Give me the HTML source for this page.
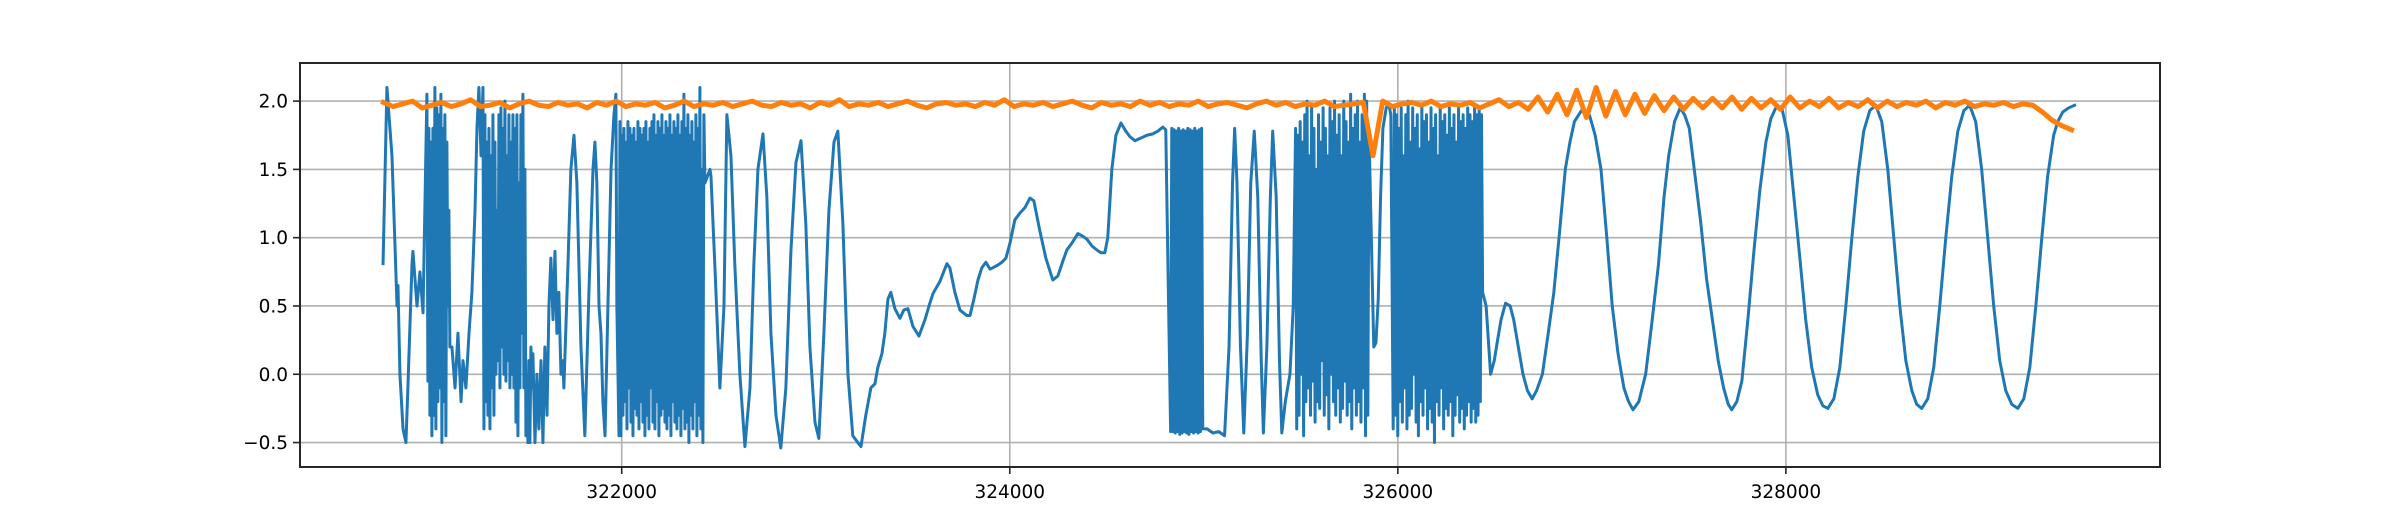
<!DOCTYPE html>
<html><head><meta charset="utf-8"><style>
html,body{margin:0;padding:0;background:#fff;}
svg{display:block;}
text{font-family:"DejaVu Sans","Liberation Sans",sans-serif;font-size:18.5px;fill:#000;}
</style></head>
<body>
<svg id="chart" width="2400" height="525" viewBox="0 0 2400 525" xmlns="http://www.w3.org/2000/svg">
<rect x="0" y="0" width="2400" height="525" fill="#fff"/>
<g id="grid"></g>
<g id="plot"></g>
<rect x="300" y="63" width="1860" height="404" fill="none" stroke="#262626" stroke-width="2"/>
<g id="ticks"></g>
</svg>
<script>
const xTicks = [322000, 324000, 326000, 328000];
const yTicks = [-0.5, 0.0, 0.5, 1.0, 1.5, 2.0];
const yTickLabels = ["\u22120.5", "0.0", "0.5", "1.0", "1.5", "2.0"];

const blueX = [320770,320790,320816,320842,320847,320857,320873,320888,320898,320919,320924,320945,320960,320976,
321125,321141,321156,321172,321182,321197,321213,321228,321244,321254,321264,321275,321285,
321553,321563,321573,321584,321594,321604,321615,321625,321635,321646,321656,321666,321676,321687,321697,321702,321723,321738,321754,321769,321790,321810,321831,321852,321862,321872,321883,321893,321903,321914,321929,321945,321960,321970,321975,321986,
322455,322460,322480,322506,322527,322542,322563,322583,322609,322635,322661,322681,322702,322728,322748,322769,322795,322820,322846,322872,322898,322924,322949,322970,322996,323016,323042,323068,323094,323114,323140,323166,323191,323217,323233,323258,323284,323305,323320,323341,323356,323372,323387,323408,323434,323454,323475,323501,323532,323563,323588,323604,323640,323676,323691,323717,323743,323779,323795,323815,323836,323856,323877,323898,323913,323939,323959,323980,324001,324026,324052,324078,324104,324124,324155,324186,324222,324248,324274,324294,324320,324351,324377,324397,324423,324449,324470,324490,324505,324526,324547,324573,324598,324619,324645,324676,324707,324737,324763,324789,324804,
325017,325047,325077,325107,325130,325148,325159,325171,325189,325206,325225,325242,325260,325278,325296,325307,325325,325343,325355,325373,325390,325402,325420,325444,325461,
325876,325887,325899,325911,325923,325940,325953,325964,
326455,326478,326497,326514,326532,326555,326579,326597,326621,326645,326668,326692,326715,326745,326775,326804,326834,326863,326887,326910,326946,326987,327017,327047,327077,327105,327135,327165,327189,327212,327242,327277,327307,327343,327372,327396,327426,327455,327478,327502,327532,327562,327591,327621,327651,327679,327703,
327721,327747,327773,327804,327835,327866,327897,327922,327948,327979,328010,328041,328072,328102,328133,328164,328190,328216,328247,328278,328309,328340,328371,328401,328432,328463,328494,328525,328556,328587,328618,328649,328674,328700,328731,328762,328793,328824,328855,328886,328917,328947,328978,329009,329040,329071,329102,329133,329164,329195,329226,329257,329288,329319,329349,329380,329401,329427,329457,329488];
const blueY = [0.81,2.1,1.6,0.5,0.65,0.0,-0.4,-0.5,-0.1,0.8,0.9,0.5,0.75,0.45,
0.2,-0.1,0.3,-0.2,0.1,-0.1,0.3,0.6,1.2,1.8,2.1,1.6,2.1,
-0.5,0.0,-0.4,0.1,-0.5,0.2,-0.3,0.5,0.85,0.4,0.9,0.3,0.6,0.0,0.1,-0.1,0.8,1.5,1.75,1.4,0.2,-0.45,0.6,1.5,1.7,1.4,0.5,0.3,-0.2,-0.45,0.5,1.5,1.9,2.05,0.5,-0.45,
1.5,1.45,0.8,-0.1,0.5,1.9,1.6,0.8,0.0,-0.53,-0.1,0.8,1.5,1.76,1.3,0.3,-0.3,-0.54,-0.1,0.9,1.55,1.71,1.1,0.2,-0.35,-0.47,0.3,1.2,1.7,1.78,1.1,0.0,-0.45,-0.5,-0.53,-0.3,-0.1,-0.07,0.05,0.15,0.3,0.55,0.6,0.48,0.41,0.47,0.48,0.35,0.28,0.4,0.52,0.59,0.68,0.81,0.78,0.6,0.47,0.43,0.43,0.55,0.69,0.78,0.82,0.77,0.78,0.80,0.82,0.85,0.96,1.13,1.18,1.22,1.29,1.27,1.05,0.85,0.69,0.72,0.83,0.91,0.96,1.03,1.01,0.99,0.94,0.91,0.89,0.89,1.0,1.5,1.75,1.84,1.78,1.74,1.71,1.73,1.75,1.76,1.78,1.81,1.79,
-0.4,-0.43,-0.42,-0.45,0.2,1.4,1.8,1.4,0.2,-0.43,0.3,1.4,1.78,1.3,0.1,-0.43,0.2,1.3,1.78,1.3,0.1,-0.43,-0.2,0.0,0.5,
0.2,0.23,0.55,1.3,1.8,1.95,1.98,1.9,
0.5,0.0,0.1,0.25,0.4,0.52,0.5,0.4,0.2,0.0,-0.12,-0.18,-0.12,0.0,0.3,0.6,1.05,1.5,1.7,1.85,1.93,1.9,1.75,1.5,1.0,0.5,0.15,-0.1,-0.2,-0.26,-0.2,0.0,0.35,0.8,1.3,1.6,1.85,1.95,1.9,1.8,1.45,1.1,0.7,0.4,0.1,-0.1,-0.22,
-0.26,-0.2,-0.05,0.4,0.9,1.35,1.7,1.87,1.95,1.95,1.75,1.3,0.85,0.4,0.05,-0.15,-0.23,-0.25,-0.18,0.05,0.5,1.0,1.45,1.78,1.93,1.97,1.85,1.5,1.0,0.5,0.1,-0.12,-0.22,-0.25,-0.18,0.05,0.5,1.0,1.45,1.78,1.93,1.97,1.85,1.5,1.0,0.5,0.1,-0.12,-0.22,-0.25,-0.18,0.05,0.5,1.0,1.45,1.75,1.85,1.92,1.95,1.97];

const burstStart = [320996, 321290, 321991, 324829, 325473, 325976];
const burstStep = [5.15, 5.15, 5.15, 5.91, 5.91, 5.91];
const burstA = [2.05,-0.05,1.8,-0.3,1.7,-0.45,1.8,-0.3,2.1,-0.4,1.95,-0.2,1.9,-0.1,2.05,-0.5,1.8,-0.2,1.9,-0.45,1.7,0.5,1.2,0.2];
const burstB = [-0.4,1.9,-0.2,1.7,-0.3,1.8,-0.4,1.6,-0.1,1.9,-0.3,1.7,0.0,1.2,0.1,1.9,-0.1,1.95,0.2,1.8,0.0,2.0,-0.05,1.6,0.1,1.9,-0.1,1.7,0.0,1.9,-0.1,1.8,-0.35,1.9,-0.45,1.4,-0.1,1.9,0.3,2.05,-0.1,1.5,-0.45,0.0,-0.5,0.1,-0.5,0.2,-0.1,0.15];
const burstC = [1.85,-0.45,1.75,-0.3,1.8,-0.2,1.7,-0.4,1.85,-0.1,1.8,-0.35,1.75,-0.45,1.8,-0.25,1.7,-0.3,1.85,-0.4,1.8,-0.2,1.75,-0.35,1.8,-0.45,1.85,-0.3,1.7,-0.4,1.8,-0.1,1.85,-0.35,1.9,-0.4,1.75,-0.2,1.85,-0.45,1.8,-0.3,1.9,-0.25,1.75,-0.35,1.85,-0.4,1.8,-0.3,1.9,-0.45,1.75,-0.2,1.85,-0.35,1.8,-0.4,1.9,-0.3,1.75,-0.45,1.85,-0.25,2.05,-0.4,1.8,-0.35,1.9,-0.5,1.75,-0.3,1.85,-0.4,1.7,-0.2,1.9,-0.45,1.8,-0.3,2.1,-0.4,1.5,-0.5,1.9,1.4];
const burstD = [-0.42,1.8,-0.42,1.79,-0.43,1.78,-0.42,1.8,-0.44,1.78,-0.43,1.79,-0.42,1.78,-0.43,1.8,-0.44,1.79,-0.42,1.78,-0.43,1.8,-0.42,1.78,-0.43,1.79,-0.42,1.8,-0.4];
const burstE = [1.8,-0.4,1.75,-0.3,1.85,0.0,1.7,-0.45,1.9,-0.2,2.0,-0.1,1.6,-0.3,1.95,-0.05,1.8,-0.35,1.5,-0.2,1.9,-0.25,1.7,0.1,1.95,-0.3,1.8,-0.15,1.6,-0.4,1.95,0.0,1.85,-0.2,2.0,-0.3,1.75,-0.1,1.9,-0.35,1.6,-0.25,2.0,-0.05,1.85,-0.3,1.7,-0.2,2.05,-0.4,1.8,-0.1,1.9,-0.3,2.0,-0.2,1.7,-0.35,1.9,-0.1,2.05,-0.45,2.0,-0.3,1.8,1.4];
const burstF = [-0.4,1.95,-0.3,1.9,-0.45,1.8,-0.2,1.95,-0.35,1.6,-0.1,1.9,-0.4,2.0,-0.3,1.7,-0.25,1.95,0.0,1.8,-0.35,1.9,-0.45,1.65,-0.2,1.95,-0.3,1.85,-0.1,1.9,-0.4,1.7,-0.25,1.95,-0.35,1.8,-0.5,1.9,-0.2,1.6,-0.3,1.95,-0.1,1.85,-0.4,1.9,-0.25,1.75,-0.3,1.95,-0.2,1.8,-0.45,1.9,-0.3,1.7,-0.15,1.95,-0.35,1.85,-0.25,1.9,-0.4,1.8,-0.3,1.95,-0.2,1.9,-0.35,1.85,-0.25,1.95,-0.35,1.9,-0.3,1.95,-0.2,1.9,0.6];

const orangeStart = 320772;
const orangeStep = 50;
const orangeY = [1.99,1.96,1.98,2.00,1.95,1.97,1.99,1.96,1.98,2.01,1.96,1.97,1.99,1.95,1.98,2.00,1.97,1.96,1.99,1.97,
1.98,1.95,1.99,1.97,2.00,1.96,1.98,1.97,1.99,1.95,1.97,2.00,1.96,1.98,1.97,1.99,1.96,1.98,2.00,1.97,
1.96,1.99,1.97,1.98,1.95,1.99,1.97,2.01,1.96,1.98,1.97,1.99,1.96,1.98,2.00,1.97,1.95,1.98,1.99,1.97,
1.98,1.96,1.99,1.97,2.01,1.96,1.98,1.97,1.99,1.96,1.98,2.00,1.97,1.95,1.99,1.97,1.98,1.96,2.00,1.97,
1.99,1.96,1.98,1.97,2.00,1.96,1.98,1.99,1.97,1.95,1.98,2.00,1.97,1.99,1.96,1.98,1.97,2.00,1.96,1.97,
1.98,1.99,1.60,2.00,1.96,1.98,1.99,1.97,2.00,1.96,1.98,1.97,1.99,1.95,1.98,2.01,1.96,1.99,1.94,2.03,
1.92,2.05,1.90,2.08,1.88,2.10,1.89,2.07,1.90,2.05,1.91,2.04,1.93,2.03,1.94,2.02,1.95,2.02,1.95,2.03,
1.94,2.02,1.95,2.01,1.94,2.03,1.95,2.00,1.96,2.02,1.95,1.99,1.96,2.01,1.95,2.00,1.96,1.99,1.97,2.00,
1.95,1.99,1.97,2.00,1.96,1.98,1.97,1.99,1.96,1.98,1.97,1.92,1.86,1.82,1.79];

const xDomain = [320342, 329928];
const yDomain = [-0.679, 2.279];
const plotL = 300, plotR = 2160, plotT = 63, plotB = 467;
function sx(v){ return plotL + (v - xDomain[0]) / (xDomain[1] - xDomain[0]) * (plotR - plotL); }
function sy(v){ return plotB - (v - yDomain[0]) / (yDomain[1] - yDomain[0]) * (plotB - plotT); }

const NS = "http://www.w3.org/2000/svg";
const grid = document.getElementById('grid');
const ticks = document.getElementById('ticks');
const plot = document.getElementById('plot');

xTicks.forEach(function(t){
  const X = sx(t);
  const gl = document.createElementNS(NS, 'line');
  gl.setAttribute('x1', X); gl.setAttribute('x2', X); gl.setAttribute('y1', plotT); gl.setAttribute('y2', plotB);
  gl.setAttribute('stroke', '#b0b0b0'); gl.setAttribute('stroke-width', '1.6');
  
  
  grid.appendChild(gl);
  const tk = document.createElementNS(NS, 'line');
  tk.setAttribute('x1', X); tk.setAttribute('x2', X); tk.setAttribute('y1', plotB); tk.setAttribute('y2', plotB + 7);
  tk.setAttribute('stroke', '#262626'); tk.setAttribute('stroke-width', '1.6');
  
  
  ticks.appendChild(tk);
  const tx = document.createElementNS(NS, 'text');
  tx.setAttribute('x', X); tx.setAttribute('y', 498); tx.setAttribute('text-anchor', 'middle');
  tx.textContent = String(t);
  
  
  ticks.appendChild(tx);
});
yTicks.forEach(function(t, i){
  const Y = sy(t);
  const gl = document.createElementNS(NS, 'line');
  gl.setAttribute('x1', plotL); gl.setAttribute('x2', plotR); gl.setAttribute('y1', Y); gl.setAttribute('y2', Y);
  gl.setAttribute('stroke', '#b0b0b0'); gl.setAttribute('stroke-width', '1.6');
  
  
  grid.appendChild(gl);
  const tk = document.createElementNS(NS, 'line');
  tk.setAttribute('x1', plotL - 7); tk.setAttribute('x2', plotL); tk.setAttribute('y1', Y); tk.setAttribute('y2', Y);
  tk.setAttribute('stroke', '#262626'); tk.setAttribute('stroke-width', '1.6');
  
  
  ticks.appendChild(tk);
  const tx = document.createElementNS(NS, 'text');
  tx.setAttribute('x', plotL - 12); tx.setAttribute('y', Y + 6.5); tx.setAttribute('text-anchor', 'end');
  tx.textContent = yTickLabels[i];
  
  
  ticks.appendChild(tx);
});

const bursts = [burstA, burstB, burstC, burstD, burstE, burstF];
let bluePts = [];
for (let i = 0; i < blueX.length; i++) bluePts.push([blueX[i], blueY[i]]);
bursts.forEach(function(b, k){
  for (let j = 0; j < b.length; j++) bluePts.push([burstStart[k] + j * burstStep[k], b[j]]);
});
bluePts.sort(function(a, b){ return a[0] - b[0]; });

function pathFrom(pts){
  return pts.map(function(p, i){ return (i ? 'L' : 'M') + sx(p[0]).toFixed(2) + ' ' + sy(p[1]).toFixed(2); }).join(' ');
}
const blue = document.createElementNS(NS, 'path');
blue.setAttribute('d', pathFrom(bluePts));
blue.setAttribute('fill', 'none'); blue.setAttribute('stroke', '#1f77b4');
blue.setAttribute('stroke-width', '3'); blue.setAttribute('stroke-linejoin', 'round'); blue.setAttribute('stroke-linecap', 'square');


plot.appendChild(blue);

const orangePts = orangeY.map(function(v, i){ return [orangeStart + i * orangeStep, v]; });
const orange = document.createElementNS(NS, 'path');
orange.setAttribute('d', pathFrom(orangePts));
orange.setAttribute('fill', 'none'); orange.setAttribute('stroke', '#ff7f0e');
orange.setAttribute('stroke-width', '5'); orange.setAttribute('stroke-linejoin', 'round'); orange.setAttribute('stroke-linecap', 'square');


plot.appendChild(orange);
</script>
</body></html>
